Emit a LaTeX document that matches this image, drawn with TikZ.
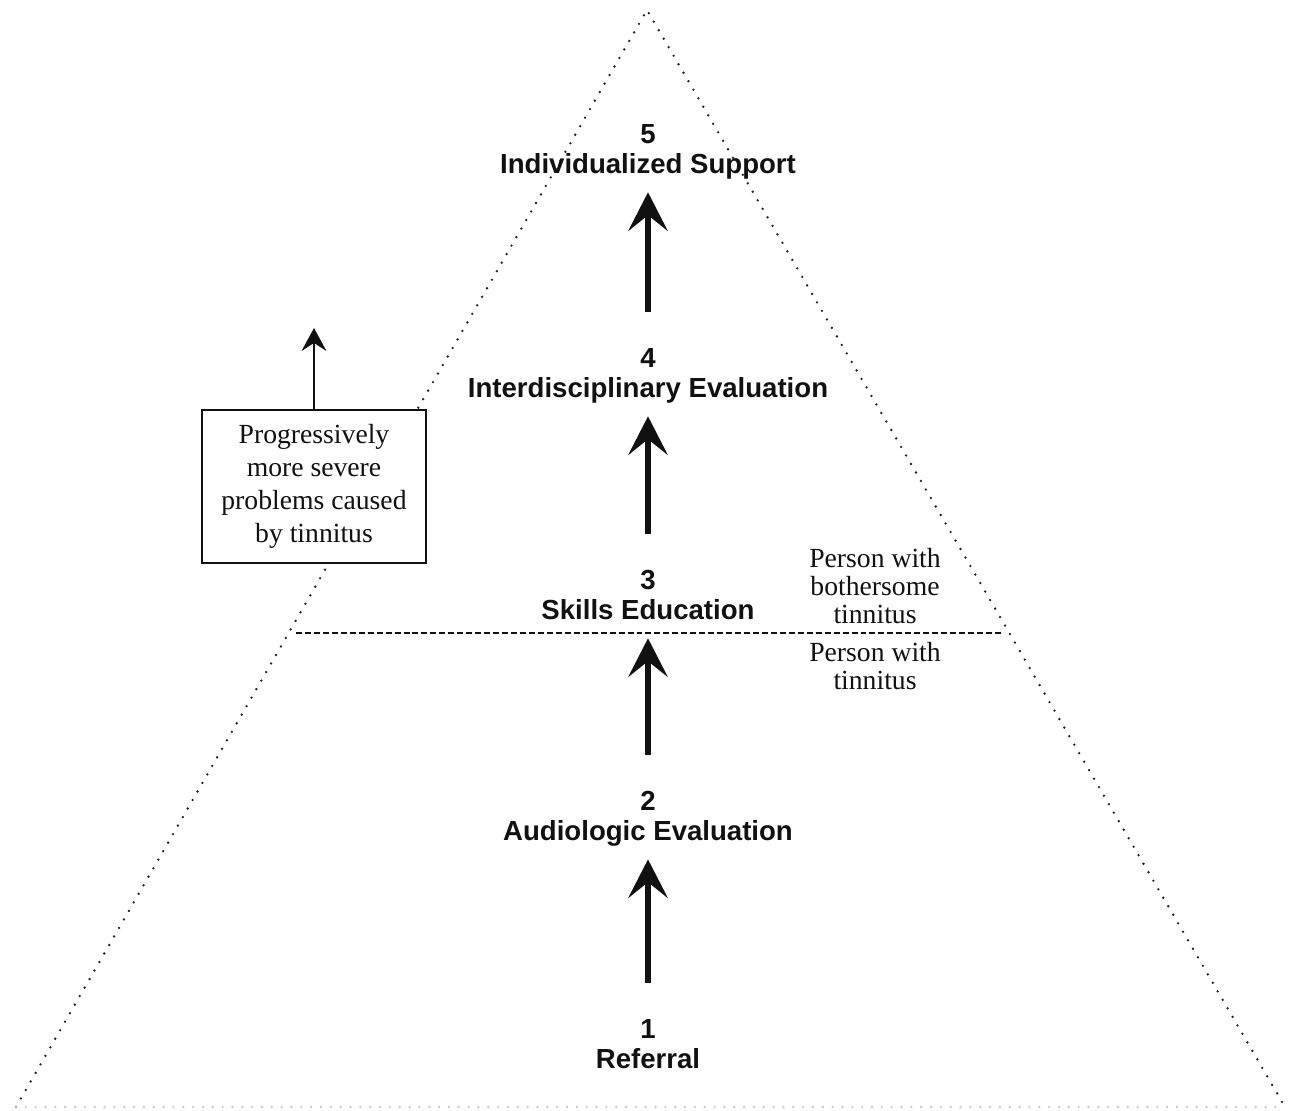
\documentclass[tikz,border=0pt]{standalone}
\usepackage{fontspec}
\usepackage{tikz}
\usetikzlibrary{arrows.meta}
\setmainfont{Liberation Serif}
\newfontfamily\headfont{Liberation Sans}
\definecolor{Ink}{HTML}{111111}
\definecolor{Dots}{HTML}{222222}
\definecolor{Faint}{HTML}{C8C8C8}
\tikzset{num/.style={anchor=base,inner sep=0pt,text height=11.3pt,text depth=0pt,font=\headfont\bfseries\fontsize{15.7}{18}\selectfont,text=Ink},title/.style={num,text depth=3.4pt},flow/.style={-{Stealth[length=22pt,width=22.5pt,inset=9pt]},line width=3pt,draw=Ink,shorten <=19.8pt,shorten >=7.4pt},rise/.style={-{Stealth[length=13pt,width=14pt,inset=4.5pt]},line width=1.6pt,draw=Ink},edge/.style={draw=Dots,line width=1.5pt,dash pattern=on 0pt off 5.6pt,line cap=round},split/.style={draw=Ink,line width=1.1pt,dash pattern=on 3.4pt off 1.7pt},lab/.style={font=\fontsize{15.75}{15.9}\selectfont,align=center,text=Ink,inner sep=0pt},note/.style={draw=Ink,line width=1.1pt,fill=white,minimum width=128pt,minimum height=86.7pt,align=center,inner sep=0pt,font=\fontsize{15.75}{18.8}\selectfont,text=Ink}}
\begin{document}
\begin{tikzpicture}[x=0.02cm,y=-0.02cm]
\useasboundingbox (0,0) rectangle (1290,1110);
\coordinate (apex) at (647,10);
\coordinate (bl) at (16,1107);
\coordinate (br) at (1285,1107);
\draw[edge] (bl)--(apex)--(br);
\draw[edge,draw=Faint] (bl)--(br);
\draw[split] (296,633)--(1002,633);
\node[num] (n1) at (648,1038) {1};
\node[title] (t1) at (648,1068) {Referral};
\node[num] (n2) at (648,810) {2};
\node[title] (t2) at (648,840) {Audiologic Evaluation};
\node[num] (n3) at (648,589) {3};
\node[title] (t3) at (648,619) {Skills Education};
\node[num] (n4) at (648,367) {4};
\node[title] (t4) at (648,397) {Interdisciplinary Evaluation};
\node[num] (n5) at (648,143) {5};
\node[title] (t5) at (648,173) {Individualized Support};
\draw[flow] (n1)--(t2);\draw[flow] (n2)--(t3);\draw[flow] (n3)--(t4);\draw[flow] (n4)--(t5);
\node[lab] (bother) at (875,586) {Person with\\bothersome\\tinnitus};
\node[lab] (plain) at (875,666) {Person with\\tinnitus};
\node[note] (box) at (314,486.5) {Progressively\\more severe\\problems caused\\by tinnitus\rule[-2pt]{0pt}{0pt}};
\coordinate (up) at (314,328);
\draw[rise] (box)--(up);
\end{tikzpicture}
\end{document}
